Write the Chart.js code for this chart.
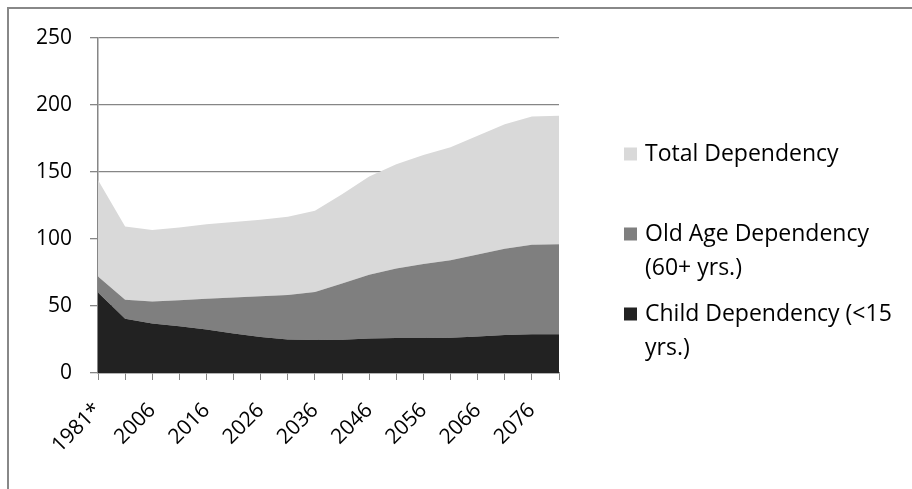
<!DOCTYPE html>
<html>
<head>
<meta charset="utf-8">
<script src="https://cdn.jsdelivr.net/npm/chart.js@4/dist/chart.umd.min.js"></script>
<style>
  html, body { margin: 0; padding: 0; background: #ffffff; }
  #wrap { width: 912px; height: 489px; position: relative; }
</style>
</head>
<body>
<div id="wrap"><canvas id="chart" width="912" height="489"></canvas></div>
<script>
// Projection periods (every other label is printed on the axis)
const categories = ['1981*', '2001', '2006', '2011', '2016', '2021', '2026', '2031', '2036',
                    '2041', '2046', '2051', '2056', '2061', '2066', '2071', '2076', '2081'];

// Dependency ratios per period
const childDependency  = [60, 40.5, 37, 34.8, 32.5, 29.5, 26.8, 25, 24.6, 24.8, 25.8, 26.1, 26.1, 26.3, 27.3, 28.3, 29, 29];
const oldAgeDependency = [12, 14.2, 16.4, 19.5, 23, 26.8, 30.4, 33.3, 35.9, 41.9, 47.5, 51.8, 55.2, 57.9, 61.2, 64.5, 66.7, 67];
const totalDependency  = [72, 54.7, 53.4, 54.3, 55.5, 56.3, 57.2, 58.3, 60.5, 66.7, 73.3, 77.9, 81.3, 84.2, 88.5, 92.8, 95.7, 96];

// Value axis ticks
const yTicks = [0, 50, 100, 150, 200, 250];

// Legend wording, split over lines as printed
const legendLines = {
  total: ['Total Dependency'],
  old: ['Old Age Dependency', '(60+ yrs.)'],
  child: ['Child Dependency (<15', 'yrs.)']
};

const FONT = '"Open Sans", "Noto Sans", sans-serif';
const GRID = '#868686';

// Outer frame of the chart object
const framePlugin = {
  id: 'frame',
  beforeDraw(chart) {
    const c = chart.ctx;
    c.save();
    c.strokeStyle = '#888888';
    c.lineWidth = 2;
    c.beginPath();
    c.moveTo(8, chart.height + 2);
    c.lineTo(8, 8);
    c.lineTo(chart.width + 2, 8);
    c.stroke();
    c.restore();
  }
};

// Legend on the right, series listed top to bottom in stack order
const sideLegend = {
  id: 'sideLegend',
  afterDraw(chart) {
    const c = chart.ctx;
    const ds = chart.data.datasets;
    const items = [
      { color: ds[2].backgroundColor, lines: legendLines.total, y: 154 },
      { color: ds[1].backgroundColor, lines: legendLines.old, y: 234 },
      { color: ds[0].backgroundColor, lines: legendLines.child, y: 314 }
    ];
    c.save();
    c.font = '23px ' + FONT;
    c.textBaseline = 'middle';
    c.textAlign = 'left';
    items.forEach(it => {
      c.fillStyle = it.color;
      c.fillRect(624, it.y - 6.5, 13, 13);
      c.fillStyle = '#000000';
      it.lines.forEach((t, i) => c.fillText(t, 645, it.y + i * 34.5));
    });
    c.restore();
  }
};

new Chart(document.getElementById('chart'), {
  type: 'line',
  data: {
    labels: categories,
    datasets: [
      { label: 'Child Dependency (<15 yrs.)', data: childDependency,
        backgroundColor: '#222222', borderWidth: 0, fill: 'origin', pointRadius: 0 },
      { label: 'Old Age Dependency (60+ yrs.)', data: oldAgeDependency,
        backgroundColor: '#7f7f7f', borderWidth: 0, fill: '-1', pointRadius: 0 },
      { label: 'Total Dependency', data: totalDependency,
        backgroundColor: '#d9d9d9', borderWidth: 0, fill: '-1', pointRadius: 0 }
    ]
  },
  options: {
    responsive: false,
    animation: false,
    devicePixelRatio: 1,
    layout: { padding: { top: 38, right: 353, left: 0, bottom: 0 } },
    plugins: {
      legend: { display: false },
      tooltip: { enabled: false }
    },
    elements: { line: { tension: 0 } },
    scales: {
      x: {
        offset: false,
        afterFit(s) { s.height = 116; },
        grid: { drawOnChartArea: false, drawTicks: true, tickLength: 7, color: GRID, lineWidth: 1 },
        border: { display: true, color: GRID, width: 1.5 },
        ticks: {
          autoSkip: false,
          minRotation: 45, maxRotation: 45,
          padding: 18,
          color: '#000000',
          font: { family: FONT, size: 21 },
          callback(v, i) { return i % 2 === 0 ? categories[i] : ''; }
        }
      },
      y: {
        stacked: true,
        min: 0, max: 250,
        afterFit(s) { s.width = 98; },
        afterBuildTicks(s) { s.ticks = yTicks.map(v => ({ value: v })); },
        grid: { color: GRID, lineWidth: 1.3, tickLength: 8 },
        border: { display: true, color: GRID, width: 1.5 },
        ticks: {
          padding: 18,
          color: '#000000',
          font: { family: FONT, size: 21 }
        }
      }
    }
  },
  plugins: [framePlugin, sideLegend]
});
</script>
</body>
</html>
